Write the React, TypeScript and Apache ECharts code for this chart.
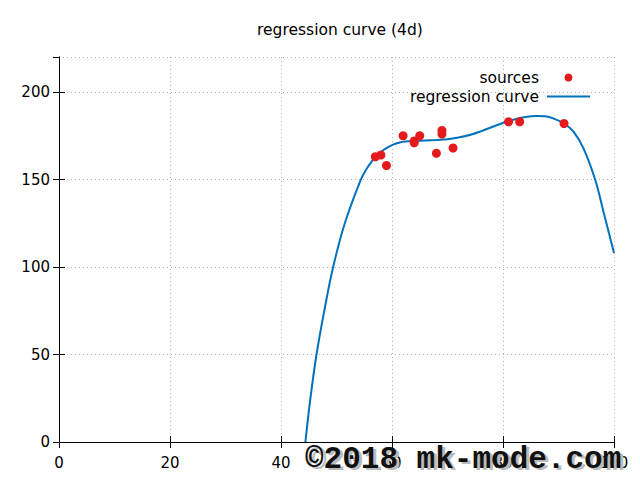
import React, { useEffect, useRef } from "react";
import * as echarts from "echarts";

const titleText = "regression curve (4d)";
const xTicks = { min: 0, max: 100, interval: 20 };
const yTicks = { min: 0, max: 220, interval: 50 };

const sourceX = [57, 58, 59, 62, 64, 64, 65, 68, 69, 69, 71, 81, 83, 91];
const sourceY = [163, 164, 158, 175, 172, 171, 175, 165, 178, 176, 168, 183, 183, 182];

const curveX = [44.4, 45.3, 46.4, 47.8, 49.4, 51.5, 54.4, 55.4, 56.4, 57.4, 58.4, 59.4, 60.4, 61.4, 62.5, 64, 66, 68, 70, 72, 74, 76, 78, 80, 82, 84, 86, 87.5, 89, 91, 92.7, 94.5, 96.6, 98.1, 100];
const curveY = [0, 25, 50, 75, 100, 125, 150, 156, 160.5, 164, 166.7, 168.7, 170.2, 171.2, 171.7, 172, 172.3, 172.6, 173, 174, 175.4, 177.5, 180, 182.3, 184.3, 185.7, 186.3, 186.2, 185, 182, 177.3, 167.8, 150, 131.6, 108];

const watermark = "©2018 mk-mode.com";

const FONT = "DejaVu Sans";

export default function App() {
  const ref = useRef<HTMLDivElement>(null);
  useEffect(() => {
    if (!ref.current) return;
    const chart = echarts.init(ref.current, null, { renderer: "svg" });
    const axisLineStyle = { lineStyle: { color: "#000", width: 1 } };
    const tick = { show: true, inside: true, length: 6, lineStyle: { color: "#000" } };
    const split = { show: true, lineStyle: { color: "#b0b0b0", type: [1, 3] as any, width: 1 } };
    chart.setOption({
      animation: false,
      backgroundColor: "#fff",
      title: {
        text: titleText,
        left: 252,
        top: 17,
        textStyle: { fontFamily: FONT, fontSize: 15.5, fontWeight: "normal", color: "#000" },
      },
      legend: {
        orient: "vertical",
        right: 44,
        top: 63,
        align: "right",
        itemWidth: 43,
        itemHeight: 8,
        itemGap: 0,
        textStyle: { fontFamily: FONT, fontSize: 15.5, color: "#000", lineHeight: 19, padding: [0, 3, 0, 0] },
        data: [
          { name: "sources", icon: "circle" },
          { name: "regression curve", itemStyle: { color: "rgba(0,0,0,0)", borderWidth: 0 } },
        ],
      },
      grid: { left: 59, right: 26, top: 57, bottom: 38, containLabel: false },
      xAxis: [
        {
          type: "value", min: xTicks.min, max: xTicks.max, interval: xTicks.interval,
          axisLine: axisLineStyle, axisTick: tick, splitLine: split,
          axisLabel: { fontFamily: FONT, fontSize: 15, color: "#000", margin: 13 },
        },
        {
          type: "value", position: "top", min: xTicks.min, max: xTicks.max, interval: xTicks.interval,
          axisLine: axisLineStyle, axisTick: tick, splitLine: { show: false }, axisLabel: { show: false },
        },
      ],
      yAxis: [
        {
          type: "value", min: yTicks.min, max: yTicks.max, interval: yTicks.interval,
          axisLine: { show: true, ...axisLineStyle }, axisTick: tick, splitLine: split,
          axisLabel: { fontFamily: FONT, fontSize: 15, color: "#000", margin: 9, showMaxLabel: false },
        },
        {
          type: "value", position: "right", min: yTicks.min, max: yTicks.max, interval: yTicks.interval,
          axisLine: { show: true, ...axisLineStyle }, axisTick: tick, splitLine: { show: false }, axisLabel: { show: false },
        },
      ],
      series: [
        {
          name: "sources",
          type: "scatter",
          symbol: "circle",
          symbolSize: 9,
          itemStyle: { color: "#e41a1c", opacity: 1 },
          data: sourceX.map((x, i) => [x, sourceY[i]]),
          z: 3,
        },
        {
          name: "regression curve",
          type: "line",
          smooth: 0.4,
          showSymbol: false,
          symbol: "none",
          clip: true,
          lineStyle: { color: "#0072bd", width: 2 },
          itemStyle: { color: "#0072bd" },
          data: curveX.map((x, i) => [x, curveY[i]]),
          z: 2,
        },
      ],
      graphic: [
        {
          type: "text", left: 308, top: 446, z: 100,
          style: { text: watermark, fill: "#bbbbbb", font: "bold 31px 'Liberation Mono'" },
        },
        {
          type: "text", left: 305, top: 444, z: 101,
          style: { text: watermark, fill: "#111111", font: "bold 31px 'Liberation Mono'" },
        },
      ],
    });
    return () => chart.dispose();
  }, []);
  return <div ref={ref} style={{ width: 640, height: 480, position: "absolute", left: 0, top: 0 }} />;
}
